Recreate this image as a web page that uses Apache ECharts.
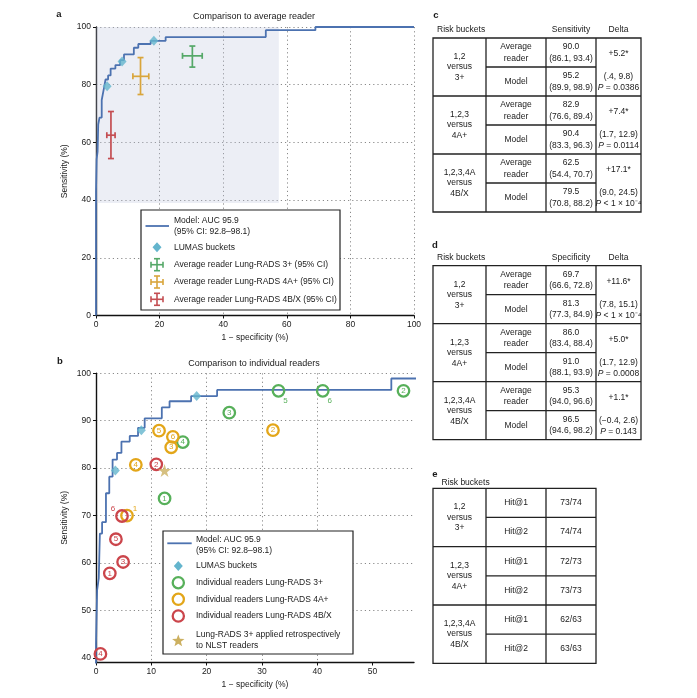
<!DOCTYPE html>
<html><head><meta charset="utf-8">
<script src="https://cdn.jsdelivr.net/npm/echarts@6/dist/echarts.min.js"></script>
<style>html,body{margin:0;padding:0;background:#fff}#c{width:697px;height:698px}</style>
</head><body><div id="c"></div>
<script>
// ---------- DATA ----------
const rocX = [0, 0, 0.2, 0.2, 0.5, 0.5, 0.7, 0.7, 1.1, 1.1, 1.8, 1.8, 2.4, 2.4, 3.0, 3.0, 3.8, 3.8, 4.6, 4.6, 6.1, 6.1, 7.6, 7.6, 8.8, 8.8, 11.9, 11.9, 13.3, 13.3, 17.2, 17.2, 21.9, 21.9, 53.4, 53.4, 69.0, 69.0, 100];
const rocY = [0, 43, 43, 54.2, 54.2, 56.8, 56.8, 66.2, 66.2, 68.6, 68.6, 74.7, 74.7, 78.2, 78.2, 81.8, 81.8, 83.2, 83.2, 85.6, 85.6, 86.8, 86.8, 88.5, 88.5, 90.5, 90.5, 92.8, 92.8, 94.1, 94.1, 95.2, 95.2, 96.5, 96.5, 98.9, 98.9, 100, 100];
const lumasX = [3.5, 8.2, 18.2];
const lumasY = [79.5, 88.0, 95.2];

const avgX   = [30.3, 14.0, 4.7];
const avgXLo = [27.2, 11.6, 3.4];
const avgXHi = [33.4, 16.6, 6.0];
const avgY   = [90.0, 82.9, 62.5];
const avgYLo = [86.1, 76.6, 54.4];
const avgYHi = [93.4, 89.4, 70.7];
const avgNames = ['Average reader Lung-RADS 3+ (95% CI)', 'Average reader Lung-RADS 4A+ (95% CI)', 'Average reader Lung-RADS 4B/X (95% CI)'];

const readerIds = ['1', '2', '3', '4', '5', '6'];
const r3X  = [12.4, 55.6, 24.1, 15.7, 33.0, 41.0];
const r3Y  = [73.6, 96.3, 91.7, 85.5, 96.3, 96.3];
const r4aX = [5.6, 32.0, 13.6, 7.2, 11.4, 13.9];
const r4aY = [70.0, 88.0, 84.4, 80.7, 87.9, 86.6];
const r4bX = [2.5, 10.9, 4.9, 0.8, 3.6, 4.7];
const r4bY = [57.8, 80.8, 60.2, 40.8, 65.0, 69.9];
const starX = [12.4];
const starY = [79.5];
const readerNames = ['Individual readers Lung-RADS 3+', 'Individual readers Lung-RADS 4A+', 'Individual readers Lung-RADS 4B/X'];

const ticksA = [0, 20, 40, 60, 80, 100];
const ticksBX = [0, 10, 20, 30, 40, 50];
const ticksBY = [40, 50, 60, 70, 80, 90, 100];

const groupLabels = ['1,2\nversus\n3+', '1,2,3\nversus\n4A+', '1,2,3,4A\nversus\n4B/X'];
const sensAvg = ['90.0', '82.9', '62.5'];
const sensAvgCI = ['(86.1, 93.4)', '(76.6, 89.4)', '(54.4, 70.7)'];
const sensModel = ['95.2', '90.4', '79.5'];
const sensModelCI = ['(89.9, 98.9)', '(83.3, 96.3)', '(70.8, 88.2)'];
const sensDelta = ['+5.2*', '+7.4*', '+17.1*'];
const sensDeltaCI = ['(.4, 9.8)', '(1.7, 12.9)', '(9.0, 24.5)'];
const sensP = ['= 0.0386', '= 0.0114', '< 1 × 10⁻⁴'];
const specAvg = ['69.7', '86.0', '95.3'];
const specAvgCI = ['(66.6, 72.8)', '(83.4, 88.4)', '(94.0, 96.6)'];
const specModel = ['81.3', '91.0', '96.5'];
const specModelCI = ['(77.3, 84.9)', '(88.1, 93.9)', '(94.6, 98.2)'];
const specDelta = ['+11.6*', '+5.0*', '+1.1*'];
const specDeltaCI = ['(7.8, 15.1)', '(1.7, 12.9)', '(−0.4, 2.6)'];
const specP = ['< 1 × 10⁻⁴', '= 0.0008', '= 0.143'];
const hitLabels = ['Hit@1', 'Hit@2'];
const hitValues = [['73/74', '74/74'], ['72/73', '73/73'], ['62/63', '63/63']];

// ---------- STYLE ----------
const F = '"Liberation Sans", Arial, Helvetica, sans-serif';
const TXT = '#1a1a1a';
const BLUE = '#4C72B0', DIAM = '#64B5CD', STAR = '#CCB060';
const ebColors = ['#55A868', '#D9A53B', '#C44E52'];
const cColors = ['#57B05A', '#E3A619', '#CB454B'];

const chart = echarts.init(document.getElementById('c'));

function txt(x, y, text, o) {
  o = o || {};
  const al = o.align || 'center', va = o.va || 'middle';
  return { type: 'text', silent: true, z: 100, style: Object.assign({
    text: text, x: x, y: y, fontFamily: F, fontSize: o.size || 8.5, fill: o.color || TXT,
    align: al, textAlign: al, verticalAlign: va, textVerticalAlign: va,
    lineHeight: o.lh || 10, fontWeight: o.weight || 'normal'
  }, o.extra || {}) };
}
function ln(x1, y1, x2, y2, w, c) {
  return { type: 'line', silent: true, z: 100, shape: { x1, y1, x2, y2 }, style: { stroke: c || '#222', lineWidth: w || 1.3 } };
}
function rectBox(x, y, w, h, lw) {
  return { type: 'rect', silent: true, z: 99, shape: { x, y, width: w, height: h }, style: { fill: '#fff', stroke: '#222', lineWidth: lw || 1.3 } };
}
function pText(x, y, rest) {
  return { type: 'text', silent: true, z: 100, style: {
    text: '{i|P} ' + rest, x: x, y: y, fontFamily: F, fontSize: 8.5, fill: TXT,
    align: 'center', textAlign: 'center', verticalAlign: 'middle', textVerticalAlign: 'middle',
    rich: { i: { fontStyle: 'italic', fontFamily: F, fontSize: 8.5, fill: TXT } }
  } };
}
function starPts(cx, cy, r) {
  const p = [];
  for (let k = 0; k < 10; k++) {
    const a = (-90 + k * 36) * Math.PI / 180, rr = k % 2 ? r * 0.42 : r;
    p.push([cx + rr * Math.cos(a), cy + rr * Math.sin(a)]);
  }
  return p;
}
function crossIcon(cx, cy, c) {
  const s = { stroke: c, lineWidth: 1.6 };
  const mk = (x1, y1, x2, y2) => ({ type: 'line', z: 101, silent: true, shape: { x1, y1, x2, y2 }, style: s });
  return [mk(cx - 6, cy, cx + 6, cy), mk(cx, cy - 6, cx, cy + 6), mk(cx - 6, cy - 3, cx - 6, cy + 3), mk(cx + 6, cy - 3, cx + 6, cy + 3),
          mk(cx - 3, cy - 6, cx + 3, cy - 6), mk(cx - 3, cy + 6, cx + 3, cy + 6)];
}

// ---------- TABLES ----------
const cols = [433, 486, 546, 596, 641];
function statTable(top, header, avg, avgCI, mod, modCI, delta, deltaCI, pv) {
  const els = [];
  const rh = 29, bottom = top + 6 * rh;
  els.push(txt(437, top - 8, 'Risk buckets', { align: 'left' }));
  els.push(txt(571, top - 8, header));
  els.push(txt(618.5, top - 8, 'Delta'));
  els.push(rectBox(cols[0], top, cols[4] - cols[0], 6 * rh));
  for (let i = 1; i < 4; i++) els.push(ln(cols[i], top, cols[i], bottom));
  for (let g = 0; g < 3; g++) {
    const gt = top + g * 2 * rh;
    if (g > 0) els.push(ln(cols[0], gt, cols[4], gt));
    els.push(ln(cols[1], gt + rh, cols[3], gt + rh));
    els.push(txt(459.5, gt + rh, groupLabels[g], { lh: 10.5 }));
    els.push(txt(516, gt + rh * 0.5, 'Average\nreader', { lh: 11.5 }));
    els.push(txt(516, gt + rh * 1.5, 'Model'));
    els.push(txt(571, gt + rh * 0.5, avg[g] + '\n' + avgCI[g], { lh: 11.5 }));
    els.push(txt(571, gt + rh * 1.5, mod[g] + '\n' + modCI[g], { lh: 11.5 }));
    els.push(txt(618.5, gt + rh * 0.5 + 1, delta[g]));
    els.push(txt(618.5, gt + rh * 1.5 - 5, deltaCI[g]));
    els.push(pText(618.5, gt + rh * 1.5 + 6, pv[g]));
  }
  return els;
}
function hitTable(top) {
  const els = [];
  const rh = 29.17, bottom = top + 6 * rh;
  els.push(txt(441.5, top - 6, 'Risk buckets', { align: 'left' }));
  els.push(rectBox(cols[0], top, cols[3] - cols[0], 6 * rh));
  for (let i = 1; i < 3; i++) els.push(ln(cols[i], top, cols[i], bottom));
  for (let g = 0; g < 3; g++) {
    const gt = top + g * 2 * rh;
    if (g > 0) els.push(ln(cols[0], gt, cols[3], gt));
    els.push(ln(cols[1], gt + rh, cols[3], gt + rh));
    els.push(txt(459.5, gt + rh, groupLabels[g], { lh: 10.5 }));
    for (let r = 0; r < 2; r++) {
      els.push(txt(516, gt + rh * (r + 0.5), hitLabels[r]));
      els.push(txt(571, gt + rh * (r + 0.5), hitValues[g][r]));
    }
  }
  return els;
}

// ---------- LEGENDS / TITLES ----------
const gfx = [];
gfx.push(txt(59, 14, 'a', { weight: 'bold', size: 9.5 }));
gfx.push(txt(60, 361, 'b', { weight: 'bold', size: 9.5 }));
gfx.push(txt(436, 15, 'c', { weight: 'bold', size: 9.5 }));
gfx.push(txt(435, 245, 'd', { weight: 'bold', size: 9.5 }));
gfx.push(txt(435, 474, 'e', { weight: 'bold', size: 9.5 }));
gfx.push(txt(254, 17, 'Comparison to average reader', { size: 9 }));
gfx.push(txt(254, 364, 'Comparison to individual readers', { size: 9 }));

// legend a
gfx.push(rectBox(141, 210, 199, 100, 1.2));
gfx.push(ln(145.5, 226, 169, 226, 1.8, BLUE));
gfx.push(txt(174, 221, 'Model: AUC 95.9', { align: 'left' }));
gfx.push(txt(174, 231.5, '(95% CI: 92.8–98.1)', { align: 'left' }));
gfx.push({ type: 'polygon', z: 101, silent: true, shape: { points: [[157, 242.3], [161.5, 247.3], [157, 252.3], [152.5, 247.3]] }, style: { fill: DIAM } });
gfx.push(txt(174, 247.3, 'LUMAS buckets', { align: 'left' }));
[264.7, 282, 299.3].forEach((yy, i) => {
  crossIcon(157, yy, ebColors[i]).forEach(e => gfx.push(e));
  gfx.push(txt(174, yy, avgNames[i], { align: 'left' }));
});

// legend b
gfx.push(rectBox(163, 531, 190, 123, 1.2));
gfx.push(ln(167.3, 543.3, 191.7, 543.3, 1.8, BLUE));
gfx.push(txt(196, 539.3, 'Model: AUC 95.9', { align: 'left' }));
gfx.push(txt(196, 550.7, '(95% CI: 92.8–98.1)', { align: 'left' }));
gfx.push({ type: 'polygon', z: 101, silent: true, shape: { points: [[178.3, 561], [182.8, 566], [178.3, 571], [173.8, 566]] }, style: { fill: DIAM } });
gfx.push(txt(196, 566, 'LUMAS buckets', { align: 'left' }));
[582.7, 599.3, 616].forEach((yy, i) => {
  gfx.push({ type: 'circle', z: 101, silent: true, shape: { cx: 178.3, cy: yy, r: 5.6 }, style: { fill: 'none', stroke: cColors[i], lineWidth: 2.3 } });
  gfx.push(txt(196, yy, readerNames[i], { align: 'left' }));
});
gfx.push({ type: 'polygon', z: 101, silent: true, shape: { points: starPts(178.3, 641, 6.5) }, style: { fill: STAR } });
gfx.push(txt(196, 635, 'Lung-RADS 3+ applied retrospectively', { align: 'left' }));
gfx.push(txt(196, 645.5, 'to NLST readers', { align: 'left' }));

statTable(38, 'Sensitivity', sensAvg, sensAvgCI, sensModel, sensModelCI, sensDelta, sensDeltaCI, sensP).forEach(e => gfx.push(e));
statTable(265.7, 'Specificity', specAvg, specAvgCI, specModel, specModelCI, specDelta, specDeltaCI, specP).forEach(e => gfx.push(e));
hitTable(488.3).forEach(e => gfx.push(e));

// ---------- AXES ----------
const splitStyle = { show: true, lineStyle: { type: [1.2, 3], color: '#8a8a8a', width: 1 } };
const axLine = { show: true, lineStyle: { color: '#111', width: 1.4 } };
const axLabel = { color: TXT, fontFamily: F, fontSize: 8.5, margin: 5 };
const nameStyle = { color: TXT, fontFamily: F, fontSize: 8.5 };

function xAx(gi, max, interval, custom) {
  const a = { type: 'value', gridIndex: gi, min: 0, max: max, name: '1 − specificity (%)', nameLocation: 'middle', nameGap: 18, nameTextStyle: nameStyle,
    axisLine: axLine, axisTick: { show: true, length: 3, lineStyle: { color: '#111' } }, axisLabel: Object.assign({}, axLabel), splitLine: Object.assign({}, splitStyle) };
  if (custom) { a.axisLabel.customValues = custom; a.axisTick.customValues = custom; a.splitLine.showMaxLine = false; }
  else a.interval = interval;
  return a;
}
function yAx(gi, min, interval, custom) {
  const a = { type: 'value', gridIndex: gi, min: min, max: 100, name: 'Sensitivity (%)', nameLocation: 'middle', nameGap: 27, nameTextStyle: nameStyle,
    axisLine: axLine, axisTick: { show: true, length: 3, lineStyle: { color: '#111' } }, axisLabel: Object.assign({}, axLabel), splitLine: Object.assign({}, splitStyle) };
  if (custom) { a.axisLabel.customValues = custom; a.axisTick.customValues = custom; a.splitLine.showMinLine = false; }
  else a.interval = interval;
  return a;
}

function errSeries(i) {
  return {
    type: 'custom', name: avgNames[i], xAxisIndex: 0, yAxisIndex: 0, z: 5,
    data: [[avgX[i], avgY[i], avgXLo[i], avgXHi[i], avgYLo[i], avgYHi[i]]],
    renderItem: function (params, api) {
      const x = api.value(0), y = api.value(1);
      const c = api.coord([x, y]);
      const xl = api.coord([api.value(2), y])[0], xh = api.coord([api.value(3), y])[0];
      const yl = api.coord([x, api.value(4)])[1], yh = api.coord([x, api.value(5)])[1];
      const st = { stroke: ebColors[i], lineWidth: 1.7 };
      const L = (x1, y1, x2, y2) => ({ type: 'line', shape: { x1, y1, x2, y2 }, style: st });
      return { type: 'group', children: [
        L(xl, c[1], xh, c[1]), L(c[0], yl, c[0], yh),
        L(xl, c[1] - 3, xl, c[1] + 3), L(xh, c[1] - 3, xh, c[1] + 3),
        L(c[0] - 3, yl, c[0] + 3, yl), L(c[0] - 3, yh, c[0] + 3, yh)
      ] };
    }
  };
}

function readerSeries(xs, ys, ci, specialLabels) {
  return {
    type: 'scatter', name: readerNames[ci], xAxisIndex: 1, yAxisIndex: 1, clip: false, z: 4 + ci,
    symbol: 'circle', symbolSize: 11.5,
    itemStyle: { color: 'rgba(255,255,255,0)', borderColor: cColors[ci], borderWidth: 2.3, opacity: 1 },
    label: { show: true, position: 'inside', formatter: p => p.value[2], color: cColors[ci], fontFamily: F, fontSize: 8 },
    data: xs.map((x, i) => {
      const d = { value: [x, ys[i], readerIds[i]] };
      if (specialLabels && specialLabels[readerIds[i]]) d.label = { offset: specialLabels[readerIds[i]] };
      return d;
    })
  };
}

const rocData = rocX.map((x, i) => [x, rocY[i]]);
const lumasData = lumasX.map((x, i) => [x, lumasY[i]]);

const option = {
  animation: false,
  backgroundColor: '#fff',
  textStyle: { fontFamily: F },
  grid: [
    { left: 96, top: 27, width: 318, height: 288.5 },
    { left: 96, top: 373.3, width: 318, height: 289.2 }
  ],
  xAxis: [xAx(0, 100, 20), xAx(1, 57.5, 10, ticksBX)],
  yAxis: [yAx(0, 0, 20), yAx(1, 39, 10, ticksBY)],
  series: [
    { type: 'line', name: 'Model: AUC 95.9', xAxisIndex: 0, yAxisIndex: 0, data: rocData, showSymbol: false, symbol: 'none',
      lineStyle: { color: BLUE, width: 1.8 }, z: 3,
      markArea: { silent: true, itemStyle: { color: 'rgba(190,195,220,0.29)' }, data: [[{ coord: [0, 39] }, { coord: [57.5, 100] }]] } },
    { type: 'scatter', name: 'LUMAS buckets', xAxisIndex: 0, yAxisIndex: 0, symbol: 'diamond', symbolSize: [9, 10], itemStyle: { color: DIAM }, data: lumasData, z: 4 },
    errSeries(0), errSeries(1), errSeries(2),
    { type: 'line', name: 'Model: AUC 95.9 ', xAxisIndex: 1, yAxisIndex: 1, data: rocData, showSymbol: false, symbol: 'none',
      lineStyle: { color: BLUE, width: 1.8 }, z: 3 },
    { type: 'scatter', name: 'LUMAS buckets ', xAxisIndex: 1, yAxisIndex: 1, symbol: 'diamond', symbolSize: [9, 10], itemStyle: { color: DIAM }, data: lumasData, z: 4 },
    readerSeries(r3X, r3Y, 0, { '5': [7, 10], '6': [7, 10] }),
    readerSeries(r4aX, r4aY, 1, { '1': [8, -7] }),
    readerSeries(r4bX, r4bY, 2, { '6': [-9, -7] }),
    { type: 'scatter', name: 'Lung-RADS 3+ applied retrospectively to NLST readers', xAxisIndex: 1, yAxisIndex: 1, z: 8,
      symbol: 'path://M50,0 L61,35 L98,35 L68,57 L79,91 L50,70 L21,91 L32,57 L2,35 L39,35 Z', symbolSize: 13,
      itemStyle: { color: STAR }, data: starX.map((x, i) => [x, starY[i]]) }
  ],
  graphic: { elements: gfx }
};
chart.setOption(option);
</script></body></html>
